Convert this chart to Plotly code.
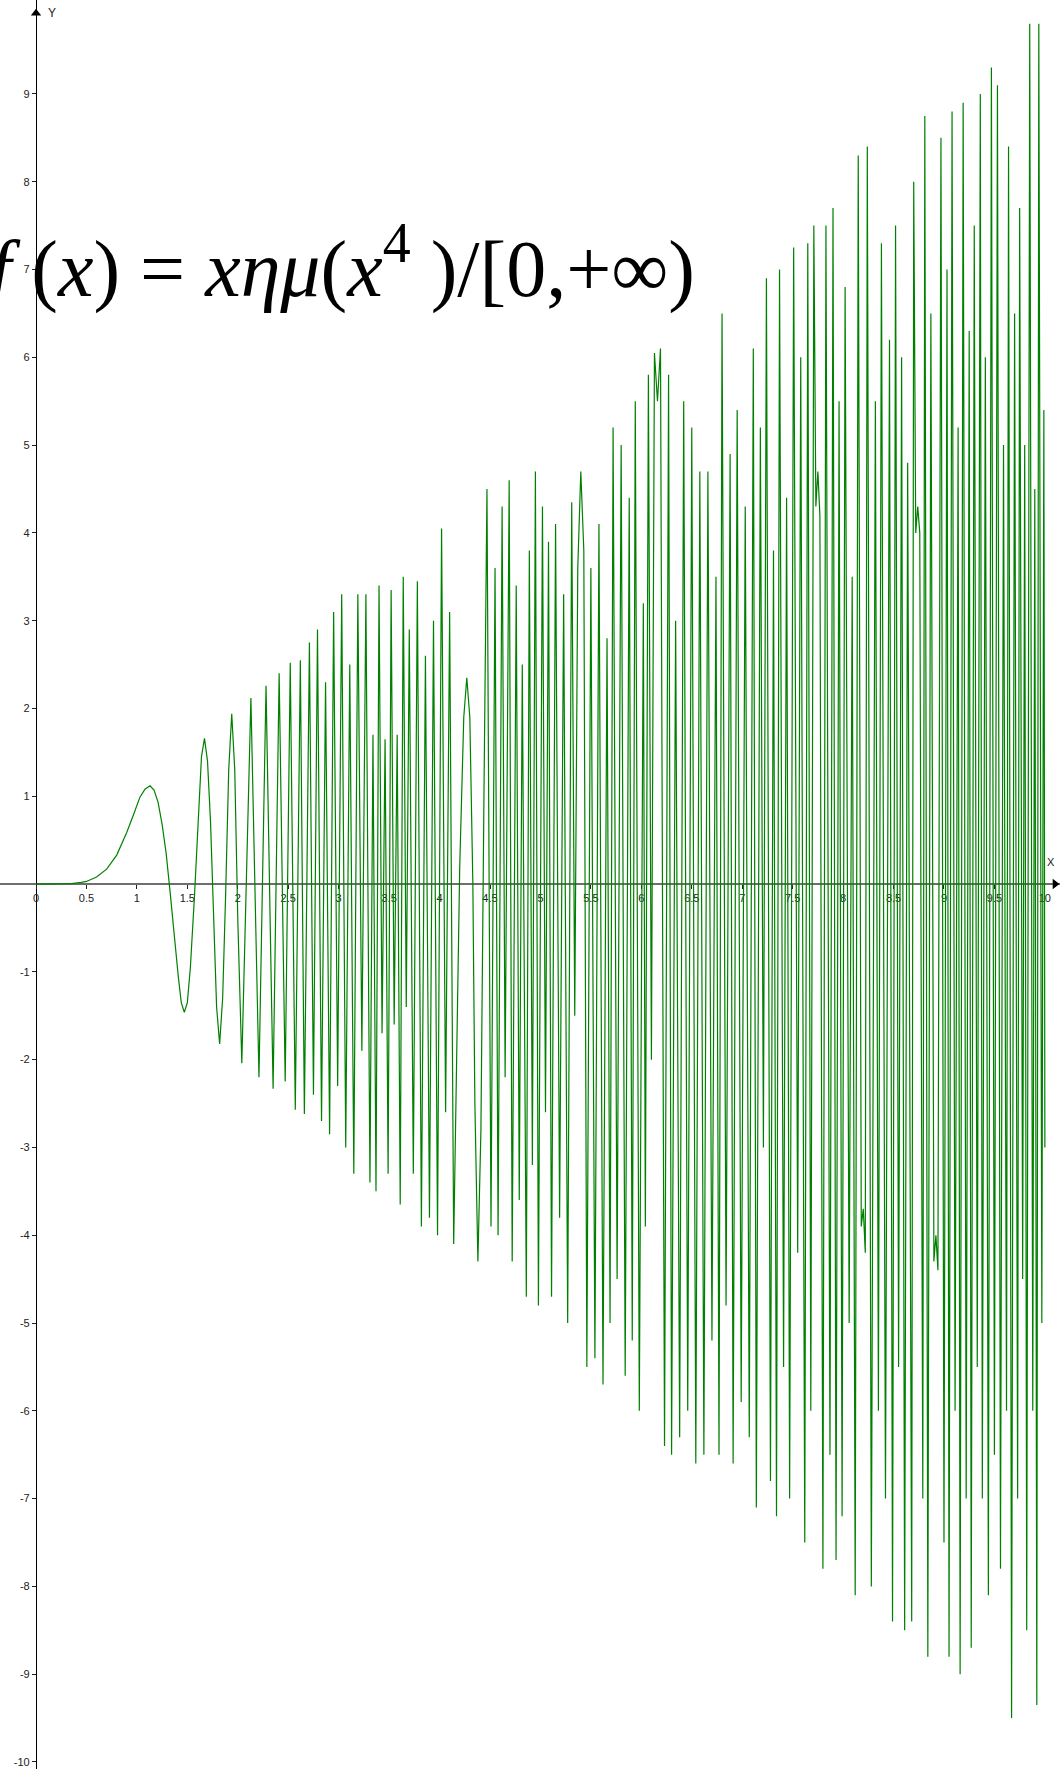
import plotly.graph_objects as go

# f(x) = x*sin(x^4) as drawn (aliased) -- vertices
curve_x = [
    0, 0.2, 0.35, 0.45, 0.5, 0.6, 0.7, 0.8, 0.9, 0.97, 1.03, 1.08, 1.13, 1.17, 1.21, 1.25,
    1.29, 1.33, 1.37, 1.41, 1.44, 1.47, 1.5, 1.53, 1.57, 1.61, 1.64, 1.67, 1.7, 1.73, 1.76,
    1.79, 1.82, 1.85, 1.88, 1.91, 1.94, 1.97, 2.0, 2.04,
    2.13, 2.21, 2.28, 2.35, 2.41, 2.47, 2.52, 2.57, 2.62, 2.66, 2.71, 2.75, 2.79, 2.83, 2.87,
    2.91, 2.95, 2.99, 3.03, 3.07, 3.11, 3.15, 3.19, 3.23, 3.27, 3.31, 3.34, 3.37, 3.40, 3.43,
    3.46, 3.49, 3.52, 3.55, 3.58, 3.61, 3.64, 3.67, 3.70, 3.74, 3.78, 3.82, 3.86, 3.90, 3.94,
    3.98, 4.02, 4.06, 4.10, 4.14, 4.20, 4.24, 4.27, 4.30, 4.33, 4.35, 4.38, 4.41, 4.44, 4.47,
    4.51, 4.55, 4.58, 4.62, 4.65, 4.69, 4.72, 4.76, 4.79, 4.82, 4.86, 4.89, 4.92, 4.95, 4.98,
    5.02, 5.05, 5.08, 5.11, 5.15, 5.19, 5.23, 5.27, 5.31, 5.34, 5.37, 5.40, 5.43, 5.46, 5.50,
    5.54, 5.58, 5.62, 5.66, 5.69, 5.72, 5.76, 5.80, 5.84, 5.88, 5.91, 5.94, 5.98, 6.02, 6.04,
    6.07, 6.10, 6.13, 6.16, 6.19, 6.23, 6.27, 6.30, 6.34, 6.38, 6.42, 6.46, 6.50, 6.54, 6.58,
    6.62, 6.66, 6.70, 6.74, 6.77, 6.80, 6.84, 6.88, 6.91, 6.95, 6.99, 7.03, 7.07, 7.11, 7.14,
    7.18, 7.21, 7.24, 7.28, 7.31, 7.34, 7.37, 7.41, 7.44, 7.47, 7.51, 7.55, 7.58, 7.62, 7.65,
    7.68, 7.71, 7.73, 7.75, 7.77, 7.80, 7.83, 7.87, 7.90, 7.93, 7.96, 7.99, 8.02, 8.06, 8.09,
    8.12, 8.15, 8.18, 8.20, 8.22, 8.24, 8.28, 8.32, 8.35, 8.38, 8.42, 8.46, 8.49, 8.52, 8.55,
    8.58, 8.61, 8.64, 8.68, 8.70, 8.72, 8.74, 8.76, 8.79, 8.81, 8.84, 8.87, 8.90, 8.92, 8.94,
    8.97, 9.00, 9.03, 9.05, 9.08, 9.11, 9.14, 9.16, 9.19, 9.22, 9.25, 9.27, 9.30, 9.33, 9.36,
    9.38, 9.41, 9.44, 9.47, 9.50, 9.53, 9.56, 9.59, 9.62, 9.64, 9.67, 9.70, 9.73, 9.75, 9.78,
    9.80, 9.82, 9.85, 9.88, 9.90, 9.92, 9.94, 9.97, 9.99, 10.0,
]
curve_y = [
    0, 0, 0.005, 0.02, 0.03, 0.08, 0.17, 0.33, 0.59, 0.8, 0.99, 1.08, 1.12, 1.07, 0.93, 0.68,
    0.35, -0.1, -0.6, -1.05, -1.35, -1.46, -1.35, -0.95, -0.15, 0.85, 1.45, 1.66, 1.4, 0.7, -0.4,
    -1.4, -1.82, -1.3, -0.1, 1.3, 1.94, 1.3, -0.4, -2.04,
    2.12, -2.2, 2.26, -2.33, 2.4, -2.25, 2.52, -2.57, 2.55, -2.62, 2.75, -2.4, 2.9, -2.7, 2.3,
    -2.85, 3.1, -2.3, 3.3, -3.0, 2.5, -3.3, 3.3, -1.9, 3.3, -3.4, 1.7, -3.5, 3.4, -1.7,
    1.65, -3.3, 3.35, -1.6, 1.7, -3.65, 3.5, -1.4, 2.9, -3.3, 3.45, -3.9, 2.6, -3.8, 3.0,
    -4.0, 4.05, -2.6, 3.1, -4.1, 0.2, 1.9, 2.35, 1.9, 0.0, -2.5, -4.3, -2.8, 1.0, 4.5,
    -3.9, 3.6, -4.0, 4.3, -2.2, 4.6, -4.3, 3.4, -3.6, 2.5, -4.7, 3.8, -3.2, 4.7, -4.8,
    4.3, -2.6, 3.9, -4.7, 4.1, -3.8, 3.3, -5.0, 4.35, -1.5, 3.6, 4.7, 3.8, -5.5, 3.6,
    -5.4, 4.1, -5.7, 2.8, -5.0, 5.2, -4.5, 5.0, -5.6, 4.4, -5.2, 5.5, -6.0, 3.2, -3.9,
    5.8, -2.0, 6.05, 5.5, 6.1, -6.4, 5.8, -6.5, 3.0, -6.3, 5.5, -6.0, 5.2, -6.6, 4.7,
    -6.5, 4.7, -5.2, 3.5, -6.5, 6.5, -4.8, 4.9, -6.6, 5.4, -5.9, 4.3, -6.3, 6.1, -7.1,
    5.2, -3.0, 6.9, -6.8, 3.8, -7.2, 7.0, -5.5, 4.4, -7.0, 7.25, -4.2, 6.0, -7.5, 7.3,
    -6.0, 7.5, 4.3, 4.7, 4.2, -7.8, 7.5, -6.5, 7.7, -7.7, 5.5, -7.2, 6.8, -5.0, 3.5,
    -8.1, 8.3, -3.9, -3.7, -4.2, 8.4, -8.0, 5.5, -6.0, 7.3, -7.0, 6.2, -8.4, 7.5, -5.5,
    6.0, -8.5, 4.8, -8.4, 8.0, 4.0, 4.3, 4.0, -7.0, 8.75, -8.8, 6.5, -4.3, -4.0, -4.4,
    8.5, -7.5, 7.0, -8.8, 8.8, -6.0, 5.2, -9.0, 8.9, -7.0, 6.3, -8.7, 7.5, -5.5, 9.0,
    -7.0, 6.0, -8.1, 9.3, -6.5, 9.1, -7.8, 5.0, -6.0, 8.4, -9.5, 6.5, -7.0, 7.7, -4.5,
    5.0, -8.5, 9.8, -6.0, 4.5, -9.35, 9.8, -5.0, 5.4, -3.0,
]

x_ticks = [0, 0.5, 1, 1.5, 2, 2.5, 3, 3.5, 4, 4.5, 5, 5.5, 6, 6.5, 7, 7.5, 8, 8.5, 9, 9.5, 10]
y_ticks = [-10, -9, -8, -7, -6, -5, -4, -3, -2, -1, 1, 2, 3, 4, 5, 6, 7, 8, 9]

x_range = [-0.357, 10.15]
y_range = [-10.08, 10.07]

fig = go.Figure()

fig.add_trace(go.Scatter(
    x=curve_x, y=curve_y, mode='lines',
    line=dict(color='rgb(0,128,0)', width=1.2),
    hoverinfo='skip', showlegend=False,
))

# axis arrow heads
fig.add_trace(go.Scatter(
    x=[0], y=[9.92], mode='markers',
    marker=dict(symbol='triangle-up', size=9, color='black'),
    hoverinfo='skip', showlegend=False,
))
fig.add_trace(go.Scatter(
    x=[10.1], y=[0], mode='markers',
    marker=dict(symbol='triangle-right', size=9, color='black'),
    hoverinfo='skip', showlegend=False,
))

# where the axes cross (0,0), as paper fractions
x_pos = (0 - x_range[0]) / (x_range[1] - x_range[0])
y_pos = (0 - y_range[0]) / (y_range[1] - y_range[0])

tick_font = dict(family='Liberation Sans, Arial, sans-serif', size=11, color='#222')

fig.update_xaxes(
    range=x_range, anchor='free', position=y_pos,
    showline=True, linecolor='#6e6e6e', linewidth=1.6,
    showgrid=False, zeroline=False,
    tickvals=x_ticks, ticktext=[('%g' % v) for v in x_ticks],
    ticks='outside', ticklen=4, tickcolor='#222', tickwidth=1,
    tickfont=tick_font, layer='below traces', fixedrange=True,
)
fig.update_yaxes(
    range=y_range, anchor='free', position=x_pos,
    showline=True, linecolor='black', linewidth=1.3,
    showgrid=False, zeroline=False,
    tickvals=y_ticks, ticktext=[('%g' % v) for v in y_ticks],
    ticks='outside', ticklen=4, tickcolor='#222', tickwidth=1,
    tickfont=tick_font, layer='below traces', fixedrange=True,
)

fig.add_annotation(x=0.1, y=9.92, text='Y', showarrow=False, xanchor='left',
                   font=dict(family='Liberation Sans, Arial, sans-serif', size=12, color='#222'))
fig.add_annotation(x=10.0, y=0.25, text='X', showarrow=False, xanchor='left',
                   font=dict(family='Liberation Sans, Arial, sans-serif', size=11, color='#222'))

fig.add_annotation(
    xref='paper', yref='paper', x=-13 / 1060, y=1 - 263 / 1769,
    xanchor='left', yanchor='middle', showarrow=False,
    text='<i>f</i> (<i>x</i>) = <i>xημ</i>(<i>x</i><sup>4</sup> )/[0,+∞)',
    font=dict(family='Liberation Serif, Times New Roman, serif', size=80, color='black'),
)

fig.update_layout(
    width=1060, height=1769,
    margin=dict(l=0, r=0, t=0, b=0),
    paper_bgcolor='white', plot_bgcolor='white',
    showlegend=False, hovermode=False,
)

fig.write_html("out.html", config={'displayModeBar': False},
               post_script="document.body.style.margin='0';")
